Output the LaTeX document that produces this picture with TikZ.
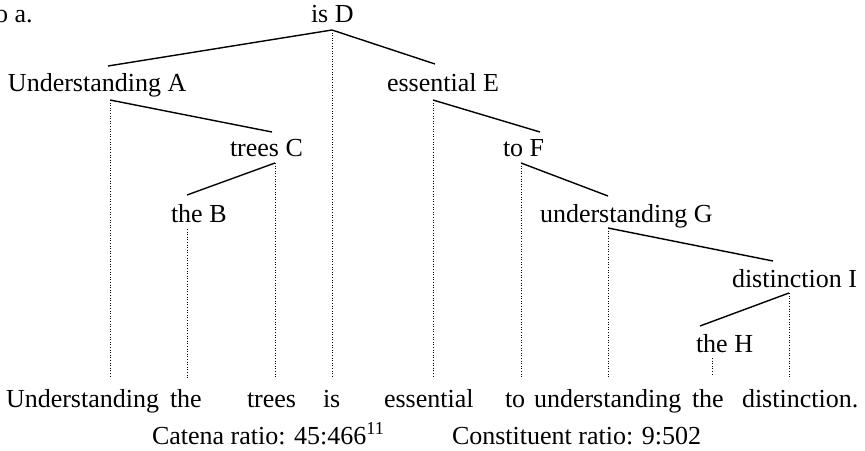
\documentclass[tikz,border=0pt]{standalone}
\usepackage{fontspec}
\setmainfont{Liberation Serif}
\begin{document}
\begin{tikzpicture}[x=1pt,y=1pt,
  txt/.style={inner sep=0pt, outer sep=0pt, anchor=base west, font=\fontsize{26}{30}\selectfont},
  branch/.style={line width=1.4pt},
  proj/.style={line width=0.9pt, dash pattern=on 1pt off 1.6pt}]
\useasboundingbox (0,0) rectangle (865,-450);
% tree nodes
\node[txt] (lab) at (-5,-22) {o a.};
\node[txt] (D) at (311,-22) {is D};
\node[txt] (A) at (8,-91) {Understanding A};
\node[txt] (E) at (387,-91) {essential E};
\node[txt] (C) at (230,-156) {trees C};
\node[txt] (F) at (503,-156) {to F};
\node[txt] (B) at (171,-222) {the B};
\node[txt] (G) at (540,-222) {understanding G};
\node[txt] (I) at (732,-287) {distinction I};
\node[txt] (H) at (696,-352) {the H};
% words
\node[txt] (w1) at (6,-407) {Understanding};
\node[txt] (w2) at (170,-407) {the};
\node[txt] (w3) at (247,-407) {trees};
\node[txt] (w4) at (323,-407) {is};
\node[txt] (w5) at (384,-407) {essential};
\node[txt] (w6) at (505,-407) {to};
\node[txt] (w7) at (534,-407) {understanding};
\node[txt] (w8) at (692,-407) {the};
\node[txt] (w9) at (742,-407) {distinction.};
\node[txt] (cat) at (152,-444) {Catena ratio: 45:466\textsuperscript{11}};
\node[txt] (con) at (452,-444) {Constituent ratio: 9:502};
% attachment points
\coordinate (Df) at (332,-30);
\coordinate (Ah) at (108,-66);  \coordinate (Af) at (110,-100);
\coordinate (Eh) at (435,-64);  \coordinate (Ef) at (433,-100);
\coordinate (Ch) at (272,-132); \coordinate (Cf) at (275,-163);
\coordinate (Fh) at (540,-132); \coordinate (Ff) at (521,-163);
\coordinate (Bh) at (187,-195); \coordinate (Bf) at (187,-229);
\coordinate (Gh) at (608,-196); \coordinate (Gf) at (608,-228);
\coordinate (Ih) at (773,-261); \coordinate (If) at (789,-293);
\coordinate (Hh) at (700,-326); \coordinate (Hf) at (712,-358);
% ends of projection lines
\coordinate (eA) at (110,-378); \coordinate (eB) at (187,-378);
\coordinate (eC) at (275,-378); \coordinate (eD) at (332,-378);
\coordinate (eE) at (433,-378); \coordinate (eF) at (521,-378);
\coordinate (eG) at (608,-378); \coordinate (eH) at (712,-375);
\coordinate (eI) at (789,-378);
% branches
\draw[branch] (Ah) -- (Df) -- (Eh);
\draw[branch] (Af) -- (Ch);
\draw[branch] (Cf) -- (Bh);
\draw[branch] (Ef) -- (Fh);
\draw[branch] (Ff) -- (Gh);
\draw[branch] (Gf) -- (Ih);
\draw[branch] (If) -- (Hh);
% projections
\draw[proj] (Df) -- (eD);
\draw[proj] (Af) -- (eA);
\draw[proj] (Bf) -- (eB);
\draw[proj] (Cf) -- (eC);
\draw[proj] (Ef) -- (eE);
\draw[proj] (Ff) -- (eF);
\draw[proj] (Gf) -- (eG);
\draw[proj] (Hf) -- (eH);
\draw[proj] (If) -- (eI);
\end{tikzpicture}
\end{document}
